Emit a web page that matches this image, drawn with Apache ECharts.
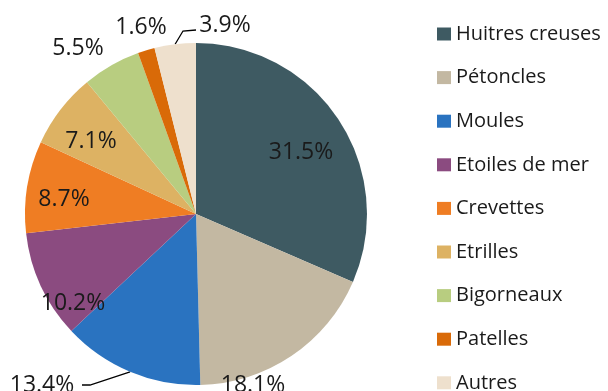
<!DOCTYPE html>
<html>
<head>
<meta charset="utf-8">
<script src="https://cdn.jsdelivr.net/npm/echarts@6/dist/echarts.min.js"></script>
<style>html,body{margin:0;padding:0;background:#fff;}#c{width:608px;height:391px;}</style>
</head>
<body>
<div id="c"></div>
<script>
const categories = ['Huitres creuses','Pétoncles','Moules','Etoiles de mer','Crevettes','Etrilles','Bigorneaux','Patelles','Autres'];
const values = [31.5, 18.1, 13.4, 10.2, 8.7, 7.1, 5.5, 1.6, 3.9];
const colors = ['#3e5a62','#c3b8a2','#2a73c0','#8b4b80','#ef7d23','#ddb263','#b8cd80','#d96a08','#eee0cd'];

// label placement (layout config)
const labelPos = [[301,152],[253,385],[42,385],[73,303],[64,199],[91,141],[78,48],[141,27],[225,25]];
const leader = {2: [[90,385],[82,385]], 8: [[183,31],[196,30]]};

const chart = echarts.init(document.getElementById('c'), null, {renderer:'canvas'});
const data = categories.map((n,i)=>{
  const d = {name:n, value:values[i], itemStyle:{color:colors[i]}};
  if (leader[i]) {
    d.label = {position:'outside'};
    d.labelLine = {show:true, lineStyle:{color:'#000', width:1.3}};
  }
  return d;
});
chart.setOption({
  animation:false,
  legend:{
    orient:'vertical', left:437, top:24, height:380, padding:0,
    itemWidth:14, itemHeight:13, itemGap:23.6,
    icon:'rect',
    textStyle:{fontFamily:'Open Sans', fontSize:20, color:'#1a1a1a', lineHeight:16},
    data: categories
  },
  series:[{
    type:'pie',
    center:[196,214],
    radius:[0,171],
    startAngle:90,
    clockwise:true,
    avoidLabelOverlap:false,
    label:{
      show:true, position:'inside',
      formatter: p => p.value.toFixed(1)+'%',
      fontFamily:'Open Sans', fontSize:23, color:'#1a1a1a'
    },
    labelLine:{show:false},
    labelLayout: function(params){
      const i = params.dataIndex;
      const o = {x:labelPos[i][0], y:labelPos[i][1], align:'center', verticalAlign:'middle'};
      if (leader[i] && params.labelLinePoints) {
        o.labelLinePoints = [params.labelLinePoints[0], leader[i][0], leader[i][1]];
      }
      return o;
    },
    data: data
  }]
});
</script>
</body>
</html>
